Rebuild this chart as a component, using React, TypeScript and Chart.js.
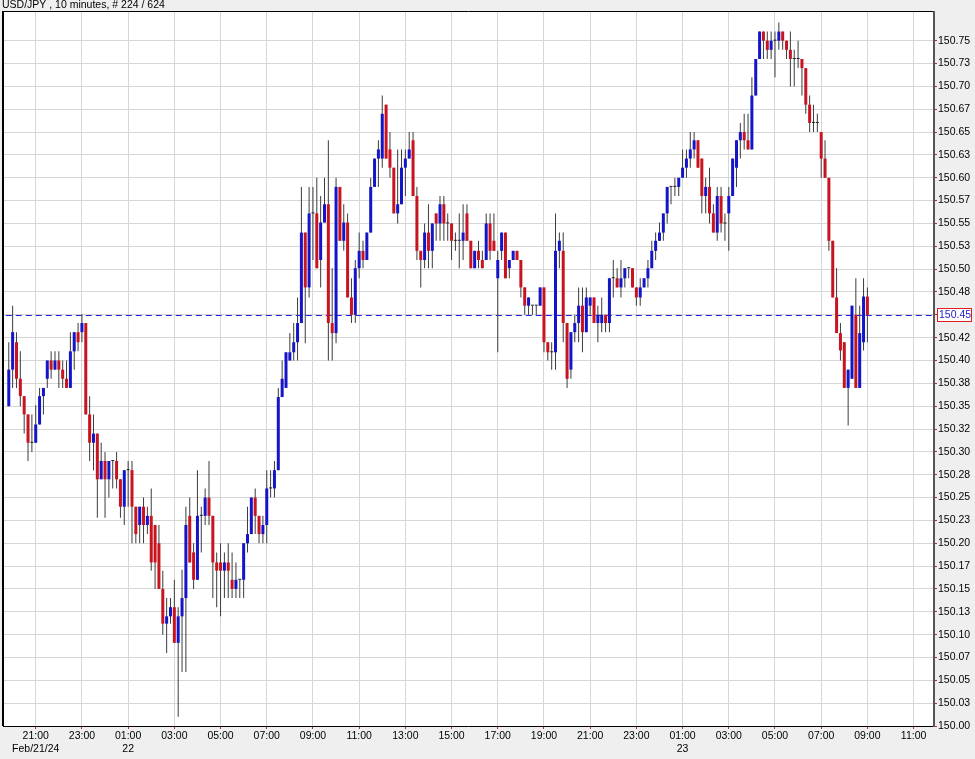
import React, { useEffect, useRef } from 'react';
import { Chart, registerables } from 'chart.js';

Chart.register(...registerables);

const TITLE = 'USD/JPY , 10 minutes, # 224 / 624';

const opens = [
  150.350, 150.390, 150.420, 150.380, 150.361, 150.341, 150.310, 150.310, 150.330, 150.361,
  150.380, 150.400, 150.390, 150.400, 150.390, 150.380, 150.370, 150.410, 150.431, 150.431,
  150.441, 150.341, 150.310, 150.320, 150.270, 150.290, 150.270, 150.290, 150.290, 150.270,
  150.240, 150.280, 150.280, 150.240, 150.220, 150.240, 150.220, 150.230, 150.220, 150.200,
  150.150, 150.112, 150.120, 150.130, 150.091, 150.120, 150.140, 150.230, 150.190, 150.160,
  150.230, 150.230, 150.250, 150.230, 150.179, 150.179, 150.170, 150.179, 150.160, 150.150,
  150.160, 150.160, 150.200, 150.210, 150.250, 150.230, 150.210, 150.220, 150.260, 150.260,
  150.280, 150.360, 150.370, 150.400, 150.409, 150.420, 150.441, 150.540, 150.480, 150.561,
  150.561, 150.510, 150.551, 150.571, 150.441, 150.430, 150.590, 150.531, 150.551, 150.469,
  150.450, 150.501, 150.520, 150.510, 150.540, 150.590, 150.621, 150.621, 150.680, 150.631,
  150.611, 150.561, 150.571, 150.611, 150.621, 150.641, 150.580, 150.520, 150.510, 150.540,
  150.520, 150.561, 150.550, 150.571, 150.550, 150.550, 150.531, 150.531, 150.531, 150.561,
  150.531, 150.501, 150.520, 150.510, 150.510, 150.550, 150.531, 150.490, 150.520, 150.540,
  150.501, 150.510, 150.520, 150.510, 150.480, 150.460, 150.460, 150.460, 150.460, 150.480,
  150.420, 150.409, 150.409, 150.520, 150.520, 150.441, 150.390, 150.431, 150.441, 150.460,
  150.431, 150.460, 150.469, 150.441, 150.441, 150.450, 150.441, 150.490, 150.490, 150.480,
  150.490, 150.501, 150.501, 150.480, 150.469, 150.480, 150.490, 150.501, 150.520, 150.531,
  150.540, 150.561, 150.590, 150.590, 150.590, 150.600, 150.611, 150.621, 150.631, 150.641,
  150.621, 150.580, 150.590, 150.561, 150.540, 150.580, 150.550, 150.561, 150.580, 150.611,
  150.641, 150.650, 150.641, 150.631, 150.690, 150.730, 150.760, 150.750, 150.740, 150.750,
  150.750, 150.760, 150.750, 150.740, 150.730, 150.730, 150.730, 150.720, 150.680, 150.660,
  150.660, 150.650, 150.621, 150.600, 150.531, 150.469, 150.430, 150.420, 150.370, 150.380,
  150.450, 150.370, 150.420, 150.470,
];

const highs = [
  150.420, 150.460, 150.431, 150.410, 150.361, 150.341, 150.341, 150.351, 150.370, 150.370,
  150.400, 150.410, 150.410, 150.410, 150.400, 150.400, 150.431, 150.431, 150.441, 150.451,
  150.441, 150.361, 150.341, 150.320, 150.310, 150.300, 150.290, 150.290, 150.300, 150.270,
  150.280, 150.290, 150.290, 150.240, 150.240, 150.250, 150.240, 150.260, 150.220, 150.220,
  150.170, 150.140, 150.140, 150.160, 150.130, 150.171, 150.240, 150.250, 150.200, 150.280,
  150.240, 150.260, 150.290, 150.230, 150.190, 150.200, 150.190, 150.200, 150.190, 150.179,
  150.160, 150.200, 150.240, 150.250, 150.260, 150.230, 150.230, 150.280, 150.280, 150.290,
  150.370, 150.400, 150.409, 150.430, 150.441, 150.469, 150.590, 150.540, 150.590, 150.590,
  150.600, 150.580, 150.600, 150.641, 150.501, 150.600, 150.590, 150.571, 150.561, 150.490,
  150.510, 150.540, 150.531, 150.540, 150.600, 150.621, 150.641, 150.690, 150.680, 150.650,
  150.611, 150.631, 150.631, 150.631, 150.650, 150.650, 150.590, 150.520, 150.550, 150.571,
  150.550, 150.561, 150.580, 150.580, 150.561, 150.550, 150.540, 150.561, 150.571, 150.571,
  150.531, 150.520, 150.531, 150.520, 150.561, 150.561, 150.561, 150.520, 150.540, 150.540,
  150.510, 150.520, 150.520, 150.510, 150.480, 150.469, 150.460, 150.460, 150.480, 150.480,
  150.420, 150.420, 150.561, 150.540, 150.540, 150.441, 150.431, 150.450, 150.480, 150.480,
  150.480, 150.469, 150.469, 150.460, 150.469, 150.450, 150.490, 150.510, 150.501, 150.510,
  150.501, 150.501, 150.501, 150.480, 150.490, 150.490, 150.510, 150.531, 150.540, 150.551,
  150.561, 150.590, 150.590, 150.600, 150.600, 150.631, 150.631, 150.650, 150.650, 150.641,
  150.621, 150.600, 150.611, 150.571, 150.590, 150.590, 150.561, 150.590, 150.621, 150.641,
  150.660, 150.670, 150.670, 150.710, 150.730, 150.760, 150.760, 150.760, 150.760, 150.760,
  150.770, 150.760, 150.750, 150.760, 150.740, 150.750, 150.730, 150.720, 150.690, 150.680,
  150.670, 150.650, 150.641, 150.600, 150.531, 150.501, 150.441, 150.420, 150.390, 150.460,
  150.490, 150.460, 150.490, 150.480,
];

const lows = [
  150.350, 150.370, 150.370, 150.350, 150.320, 150.290, 150.300, 150.310, 150.330, 150.341,
  150.370, 150.380, 150.390, 150.370, 150.370, 150.370, 150.370, 150.390, 150.410, 150.420,
  150.341, 150.290, 150.280, 150.228, 150.270, 150.228, 150.250, 150.260, 150.260, 150.228,
  150.220, 150.240, 150.200, 150.200, 150.200, 150.200, 150.210, 150.170, 150.150, 150.150,
  150.100, 150.080, 150.112, 150.091, 150.010, 150.059, 150.059, 150.179, 150.150, 150.160,
  150.190, 150.220, 150.220, 150.140, 150.130, 150.120, 150.140, 150.140, 150.140, 150.140,
  150.140, 150.140, 150.190, 150.210, 150.210, 150.200, 150.200, 150.200, 150.250, 150.250,
  150.280, 150.360, 150.370, 150.400, 150.400, 150.400, 150.441, 150.419, 150.469, 150.510,
  150.501, 150.480, 150.551, 150.400, 150.400, 150.419, 150.531, 150.520, 150.469, 150.441,
  150.441, 150.490, 150.501, 150.510, 150.540, 150.590, 150.590, 150.611, 150.621, 150.600,
  150.561, 150.550, 150.571, 150.580, 150.621, 150.580, 150.510, 150.480, 150.501, 150.501,
  150.501, 150.531, 150.531, 150.531, 150.531, 150.510, 150.520, 150.501, 150.510, 150.531,
  150.501, 150.501, 150.501, 150.501, 150.510, 150.510, 150.520, 150.409, 150.510, 150.490,
  150.490, 150.510, 150.510, 150.469, 150.450, 150.450, 150.450, 150.450, 150.460, 150.409,
  150.400, 150.390, 150.390, 150.501, 150.420, 150.370, 150.380, 150.420, 150.420, 150.409,
  150.431, 150.450, 150.441, 150.420, 150.431, 150.431, 150.431, 150.469, 150.480, 150.469,
  150.480, 150.490, 150.480, 150.460, 150.460, 150.480, 150.480, 150.501, 150.510, 150.531,
  150.531, 150.550, 150.571, 150.580, 150.580, 150.600, 150.600, 150.611, 150.621, 150.611,
  150.561, 150.561, 150.550, 150.540, 150.531, 150.540, 150.531, 150.520, 150.580, 150.590,
  150.621, 150.631, 150.631, 150.631, 150.690, 150.730, 150.730, 150.730, 150.730, 150.710,
  150.740, 150.740, 150.730, 150.700, 150.700, 150.720, 150.690, 150.670, 150.650, 150.650,
  150.650, 150.600, 150.600, 150.520, 150.469, 150.430, 150.400, 150.370, 150.329, 150.380,
  150.370, 150.370, 150.411, 150.420,
];

const closes = [
  150.390, 150.431, 150.380, 150.361, 150.341, 150.310, 150.310, 150.330, 150.361, 150.370,
  150.400, 150.390, 150.400, 150.390, 150.380, 150.370, 150.410, 150.431, 150.420, 150.441,
  150.341, 150.310, 150.320, 150.270, 150.290, 150.270, 150.290, 150.290, 150.270, 150.240,
  150.280, 150.280, 150.240, 150.210, 150.240, 150.220, 150.230, 150.179, 150.179, 150.150,
  150.112, 150.120, 150.130, 150.091, 150.120, 150.140, 150.220, 150.179, 150.160, 150.230,
  150.230, 150.250, 150.230, 150.179, 150.170, 150.170, 150.179, 150.170, 150.150, 150.160,
  150.160, 150.200, 150.210, 150.250, 150.230, 150.210, 150.220, 150.260, 150.260, 150.280,
  150.360, 150.380, 150.409, 150.409, 150.420, 150.441, 150.540, 150.480, 150.561, 150.561,
  150.501, 150.551, 150.571, 150.441, 150.430, 150.590, 150.531, 150.551, 150.469, 150.450,
  150.501, 150.520, 150.510, 150.540, 150.590, 150.621, 150.631, 150.670, 150.621, 150.611,
  150.561, 150.571, 150.611, 150.621, 150.631, 150.580, 150.520, 150.510, 150.540, 150.520,
  150.550, 150.550, 150.571, 150.550, 150.550, 150.531, 150.531, 150.531, 150.540, 150.531,
  150.501, 150.520, 150.510, 150.501, 150.550, 150.520, 150.520, 150.510, 150.540, 150.490,
  150.510, 150.520, 150.510, 150.480, 150.460, 150.469, 150.460, 150.460, 150.480, 150.420,
  150.409, 150.409, 150.520, 150.531, 150.441, 150.380, 150.431, 150.441, 150.460, 150.431,
  150.469, 150.469, 150.441, 150.450, 150.450, 150.441, 150.490, 150.490, 150.480, 150.490,
  150.501, 150.501, 150.480, 150.469, 150.480, 150.490, 150.501, 150.520, 150.531, 150.540,
  150.561, 150.590, 150.590, 150.590, 150.600, 150.611, 150.621, 150.631, 150.641, 150.611,
  150.580, 150.590, 150.561, 150.540, 150.580, 150.550, 150.550, 150.580, 150.621, 150.641,
  150.650, 150.641, 150.631, 150.690, 150.730, 150.760, 150.750, 150.740, 150.750, 150.750,
  150.760, 150.750, 150.740, 150.730, 150.730, 150.730, 150.720, 150.680, 150.660, 150.660,
  150.660, 150.621, 150.600, 150.531, 150.469, 150.430, 150.411, 150.370, 150.390, 150.460,
  150.370, 150.430, 150.470, 150.450,
];

// bar index (10-minute steps from 19:50 Feb 21) of each time label
const xTickIndex = [7, 19, 31, 43, 55, 67, 79, 91, 103, 115, 127, 139, 151, 163, 175, 187, 199, 211, 223, 235];
const xTickLabels = [
  ['21:00', 'Feb/21/24'], ['23:00'], ['01:00', '22'], ['03:00'], ['05:00'], ['07:00'], ['09:00'],
  ['11:00'], ['13:00'], ['15:00'], ['17:00'], ['19:00'], ['21:00'], ['23:00'], ['01:00', '23'],
  ['03:00'], ['05:00'], ['07:00'], ['09:00'], ['11:00'],
];

const yTickValues = [
  150.000, 150.025, 150.050, 150.075, 150.100, 150.125, 150.150, 150.175, 150.200, 150.225,
  150.250, 150.275, 150.300, 150.325, 150.350, 150.375, 150.400, 150.425, 150.450, 150.475,
  150.500, 150.525, 150.550, 150.575, 150.600, 150.625, 150.650, 150.675, 150.700, 150.725, 150.750,
];
const yTickLabels = [
  '150.00', '150.03', '150.05', '150.07', '150.10', '150.13', '150.15', '150.17', '150.20', '150.23',
  '150.25', '150.28', '150.30', '150.32', '150.35', '150.38', '150.40', '150.42', '150.45', '150.48',
  '150.50', '150.53', '150.55', '150.57', '150.60', '150.63', '150.65', '150.67', '150.70', '150.73', '150.75',
];

const BLUE = '#1414c8';
const RED = '#c8141e';
const DOJI = '#222222';
const WICK = '#3c3c3c';
const GRID = '#d6d6d6';
const TICK = '#b03030';
const FONT = { family: '"Liberation Sans", Arial, sans-serif', size: 10.5 };

export default function App() {
  const ref = useRef<HTMLCanvasElement>(null);

  useEffect(() => {
    if (!ref.current) return;
    const idx = opens.map((_, i) => i);
    const wickData = idx.map((i) => ({ x: i, y: [lows[i], highs[i]] }));
    const bodyData = idx.map((i) => ({
      x: i,
      y: [Math.min(opens[i], closes[i]), Math.max(opens[i], closes[i])],
    }));
    const bodyColors = idx.map((i) =>
      closes[i] > opens[i] ? BLUE : closes[i] < opens[i] ? RED : DOJI
    );
    const lastClose = closes[closes.length - 1];

    const decor = {
      id: 'decor',
      beforeDraw(chart: any) {
        const { ctx, chartArea: a, width, height } = chart;
        ctx.save();
        ctx.fillStyle = '#efefef';
        ctx.fillRect(0, 0, width, height);
        ctx.fillStyle = '#ffffff';
        ctx.fillRect(a.left, a.top, a.right - a.left, a.bottom - a.top);
        ctx.restore();
      },
      beforeDatasetsDraw(chart: any) {
        const { ctx, chartArea: a, scales } = chart;
        const y = Math.round(scales.y.getPixelForValue(lastClose)) + 0.5;
        const x0 = scales.x.getPixelForValue(0) - 3;
        ctx.save();
        ctx.strokeStyle = '#1f1fe8';
        ctx.lineWidth = 1;
        ctx.setLineDash([6, 4]);
        ctx.beginPath();
        ctx.moveTo(x0, y);
        ctx.lineTo(a.right, y);
        ctx.stroke();
        ctx.restore();
      },
      afterDraw(chart: any) {
        const { ctx, chartArea: a, scales } = chart;
        ctx.save();
        // frame
        ctx.strokeStyle = '#000';
        ctx.lineWidth = 2;
        ctx.beginPath();
        ctx.moveTo(a.left, a.top);
        ctx.lineTo(a.left, a.bottom);
        ctx.stroke();
        ctx.lineWidth = 1;
        ctx.beginPath();
        ctx.moveTo(a.left, a.top + 0.5);
        ctx.lineTo(a.right, a.top + 0.5);
        ctx.moveTo(a.left, a.bottom + 0.5);
        ctx.lineTo(a.right, a.bottom + 0.5);
        ctx.stroke();
        ctx.strokeStyle = '#555';
        ctx.lineWidth = 2;
        ctx.beginPath();
        ctx.moveTo(a.right, a.top);
        ctx.lineTo(a.right, a.bottom + 1);
        ctx.stroke();
        // title
        ctx.fillStyle = '#000';
        ctx.font = '10.5px "Liberation Sans", Arial, sans-serif';
        ctx.textBaseline = 'top';
        ctx.textAlign = 'left';
        ctx.fillText(TITLE, 2, 0);
        // last price box
        const py = Math.round(scales.y.getPixelForValue(lastClose));
        const bx = a.right + 3;
        ctx.fillStyle = '#ffffff';
        ctx.fillRect(bx, py - 7, 35, 14);
        ctx.strokeStyle = '#e02020';
        ctx.lineWidth = 1;
        ctx.strokeRect(bx + 0.5, py - 6.5, 34, 13);
        ctx.fillStyle = '#1a1ad0';
        ctx.textBaseline = 'middle';
        ctx.fillText(lastClose.toFixed(2), bx + 2, py + 0.5);
        ctx.restore();
      },
    };

    const chart = new Chart(ref.current, {
      type: 'bar',
      data: {
        datasets: [
          {
            label: 'wick',
            data: wickData as any,
            backgroundColor: WICK,
            barThickness: 1,
            grouped: false,
            minBarLength: 1,
            inflateAmount: 0,
            order: 2,
          } as any,
          {
            label: 'body',
            data: bodyData as any,
            backgroundColor: bodyColors,
            barThickness: 3,
            grouped: false,
            minBarLength: 1,
            inflateAmount: 0,
            order: 1,
          } as any,
        ],
      },
      options: {
        animation: false,
        responsive: false,
        devicePixelRatio: 1,
        layout: { padding: { left: 3, top: 11, right: 0, bottom: 0 } },
        plugins: {
          legend: { display: false },
          tooltip: { enabled: false },
          title: { display: false },
        },
        scales: {
          x: {
            type: 'linear',
            position: 'bottom',
            min: -1.5,
            max: 240.3,
            offset: false,
            bounds: 'data',
            afterBuildTicks: (s: any) => {
              s.ticks = xTickIndex.map((v) => ({ value: v }));
            },
            afterFit: (s: any) => {
              s.height = 33;
            },
            ticks: {
              autoSkip: false,
              maxRotation: 0,
              minRotation: 0,
              padding: 1,
              color: '#000',
              font: FONT,
              callback: (_v: any, i: number) => xTickLabels[i],
            },
            grid: { offset: false, color: GRID, tickColor: TICK, tickLength: 3, drawTicks: true },
            border: { display: false },
          },
          y: {
            type: 'linear',
            position: 'right',
            min: 150.0,
            max: 150.7825,
            bounds: 'data',
            afterBuildTicks: (s: any) => {
              s.ticks = yTickValues.map((v) => ({ value: v }));
            },
            afterFit: (s: any) => {
              s.width = 41;
            },
            ticks: {
              padding: 1,
              color: '#000',
              font: FONT,
              callback: (_v: any, i: number) => yTickLabels[i],
            },
            grid: { color: GRID, tickColor: TICK, tickLength: 3, drawTicks: true },
            border: { display: false },
          },
        },
      } as any,
      plugins: [decor],
    });

    return () => chart.destroy();
  }, []);

  return (
    <div style={{ position: 'fixed', left: 0, top: 0, width: 975, height: 759 }}>
      <canvas ref={ref} width={975} height={759} style={{ display: 'block' }} />
    </div>
  );
}
